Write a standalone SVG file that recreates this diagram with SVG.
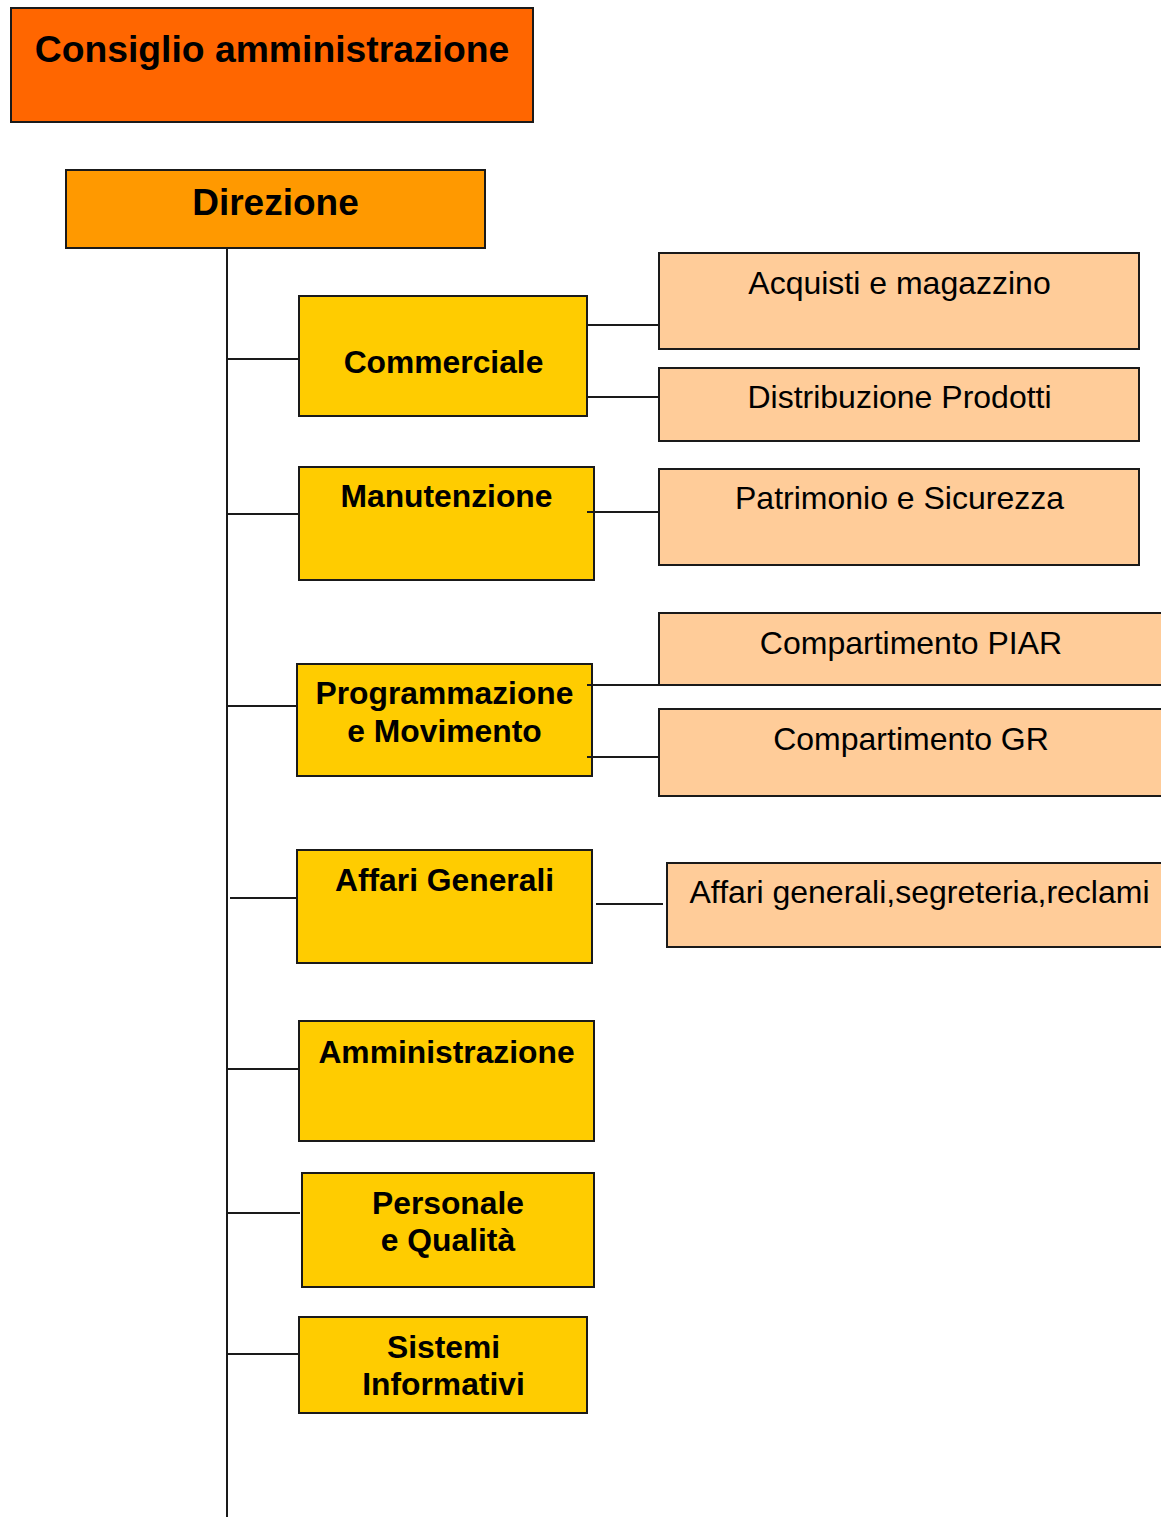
<svg xmlns="http://www.w3.org/2000/svg" width="1161" height="1517" viewBox="0 0 1161 1517">
<style>
.box{stroke:#1a1a1a;stroke-width:2}
.top{fill:#FF6600}
.dir{fill:#FF9900}
.dep{fill:#FFCC00}
.sub{fill:#FFCC99}
.b{font-family:"Liberation Sans",Arial,sans-serif;font-weight:bold;fill:#000;text-anchor:middle}
.r{font-family:"Liberation Sans",Arial,sans-serif;font-size:32px;fill:#000;text-anchor:middle}
.c line{stroke:#1a1a1a;stroke-width:2}
</style>
<rect width="1161" height="1517" fill="#fff"/>
<g id="consiglio"><rect class="box top" x="11" y="8" width="522" height="114"/><text class="b" x="272" y="62" font-size="37.3">Consiglio amministrazione</text></g>
<g id="direzione"><rect class="box dir" x="66" y="170" width="419" height="78"/><text class="b" x="275.5" y="215" font-size="37">Direzione</text></g>
<g id="commerciale"><rect class="box dep" x="299" y="296" width="288" height="120"/><text class="b" x="443.5" y="373" font-size="31.8">Commerciale</text></g>
<g id="acquisti"><rect class="box sub" x="659" y="253" width="480" height="96"/><text class="r" x="899.5" y="294">Acquisti e magazzino</text></g>
<g id="distribuzione"><rect class="box sub" x="659" y="368" width="480" height="73"/><text class="r" x="899.5" y="408">Distribuzione Prodotti</text></g>
<g id="manutenzione"><rect class="box dep" x="299" y="467" width="295" height="113"/><text class="b" x="446.5" y="507" font-size="31.8">Manutenzione</text></g>
<g id="patrimonio"><rect class="box sub" x="659" y="469" width="480" height="96"/><text class="r" x="899.5" y="509">Patrimonio e Sicurezza</text></g>
<g id="programmazione"><rect class="box dep" x="297" y="664" width="295" height="112"/><text class="b" x="444.5" y="704" font-size="31.8">Programmazione</text><text class="b" x="444.5" y="742" font-size="31.8">e Movimento</text></g>
<g id="piar"><rect class="box sub" x="659" y="613" width="510" height="72"/><text class="r" x="911" y="654">Compartimento PIAR</text></g>
<g id="gr"><rect class="box sub" x="659" y="709" width="510" height="87"/><text class="r" x="911" y="750">Compartimento GR</text></g>
<g id="affari"><rect class="box dep" x="297" y="850" width="295" height="113"/><text class="b" x="444.5" y="891" font-size="31.8">Affari Generali</text></g>
<g id="affari-sub"><rect class="box sub" x="667" y="863" width="502" height="84"/><text class="r" x="919.5" y="903">Affari generali,segreteria,reclami</text></g>
<g id="amministrazione"><rect class="box dep" x="299" y="1021" width="295" height="120"/><text class="b" x="446.5" y="1063" font-size="31.8">Amministrazione</text></g>
<g id="personale"><rect class="box dep" x="302" y="1173" width="292" height="114"/><text class="b" x="448" y="1214" font-size="31.8">Personale</text><text class="b" x="448" y="1251" font-size="31.8">e Qualità</text></g>
<g id="sistemi"><rect class="box dep" x="299" y="1317" width="288" height="96"/><text class="b" x="443.5" y="1358" font-size="31.8">Sistemi</text><text class="b" x="443.5" y="1395" font-size="31.8">Informativi</text></g>
<g class="c" id="connectors">
<line x1="227" y1="248" x2="227" y2="1517"/>
<line x1="227" y1="359" x2="299" y2="359"/>
<line x1="587" y1="325" x2="659" y2="325"/>
<line x1="587" y1="397" x2="659" y2="397"/>
<line x1="227" y1="514" x2="299" y2="514"/>
<line x1="587" y1="512" x2="659" y2="512"/>
<line x1="227" y1="706" x2="297" y2="706"/>
<line x1="587" y1="685" x2="659" y2="685"/>
<line x1="587" y1="757" x2="659" y2="757"/>
<line x1="230" y1="898" x2="297" y2="898"/>
<line x1="596" y1="904" x2="663" y2="904"/>
<line x1="227" y1="1069" x2="299" y2="1069"/>
<line x1="227" y1="1213" x2="300" y2="1213"/>
<line x1="227" y1="1354" x2="299" y2="1354"/>
</g>
</svg>
